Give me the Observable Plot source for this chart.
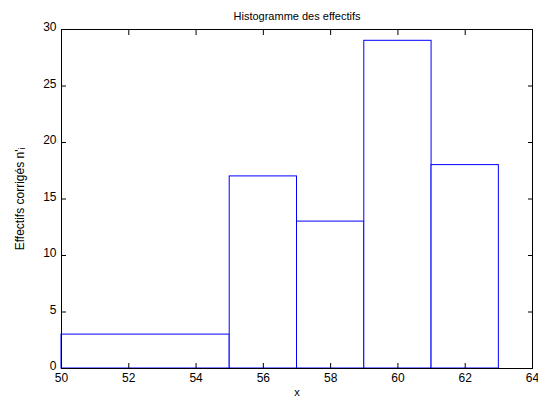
<!DOCTYPE html>
<html><head><meta charset="utf-8">
<script src="https://cdn.jsdelivr.net/npm/d3@7"></script>
<script src="https://cdn.jsdelivr.net/npm/@observablehq/plot@0.6"></script>
<style>body{margin:0;background:#fff}svg{font-family:"Liberation Sans",Arial,sans-serif}</style>
</head><body><div id="chart"></div>
<script>
const binStart = [50, 55, 57, 59, 61];
const binEnd = [55, 57, 59, 61, 63];
const counts = [3, 17, 13, 29, 18];
const xTicks = [50, 52, 54, 56, 58, 60, 62, 64];
const yTicks = [0, 5, 10, 15, 20, 25, 30];
const title = "Histogramme des effectifs";
const xLabel = "x";
const yLabel = "Effectifs corrigés n'ᵢ";

const bins = binStart.map((s, i) => ({x1: s, x2: binEnd[i], y: counts[i]}));

const chart = Plot.plot({
  width: 538, height: 400,
  marginLeft: 61, marginRight: 6, marginTop: 29, marginBottom: 32,
  style: {fontSize: "12px", fontFamily: "'Liberation Sans', Arial, sans-serif", color: "#000"},
  x: {domain: [50, 64]},
  y: {domain: [0, 30]},
  marks: [
    Plot.rectY(bins, {x1: "x1", x2: "x2", y: "y", fill: "white", stroke: "#0000ff", strokeWidth: 1}),
    Plot.axisX({ticks: xTicks, tickSize: -5, tickPadding: 10, label: null, fontSize: 12}),
    Plot.axisX({anchor: "top", ticks: xTicks, tickSize: -5, tickFormat: () => "", label: null}),
    Plot.axisY({ticks: yTicks, tickSize: -5, tickFormat: () => "", label: null}),
    Plot.axisY({ticks: yTicks, tickSize: 0, tickPadding: 5, dy: -2, label: null, fontSize: 12}),
    Plot.axisY({anchor: "right", ticks: yTicks, tickSize: -5, tickFormat: () => "", label: null}),
    Plot.frame({stroke: "#000"}),
    Plot.text([title], {frameAnchor: "top", dy: -17, text: d => d, fontSize: 11}),
    Plot.text([xLabel], {frameAnchor: "bottom", dy: 27, text: d => d, fontSize: 11}),
    Plot.text([yLabel], {frameAnchor: "left", dx: -41, rotate: -90, textAnchor: "middle", text: d => d, fontSize: 12})
  ]
});
document.getElementById("chart").appendChild(chart);
</script></body></html>
